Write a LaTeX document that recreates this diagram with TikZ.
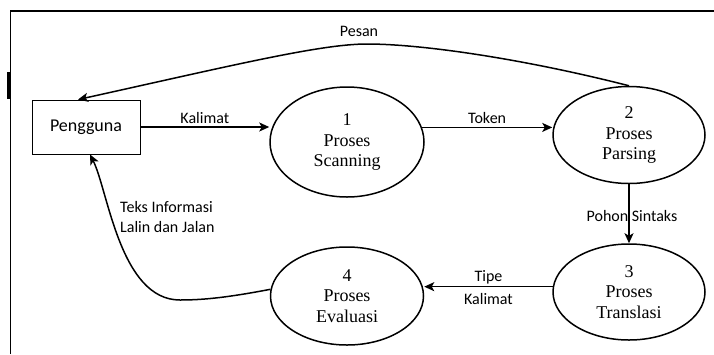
\documentclass[tikz,border=0pt]{standalone}
\usepackage{fontspec}
\setmainfont{Liberation Serif}
\newfontfamily\labelfont{Carlito}
\usetikzlibrary{positioning, arrows.meta, shapes.geometric}

\begin{document}
\begin{tikzpicture}[x=1pt,y=-1pt,
  entity/.style={draw, line width=0.9pt, minimum width=108pt, minimum height=54pt, font=\fontsize{18}{20}\labelfont},
  proc/.style={draw, ellipse, line width=1.5pt, inner sep=0pt, align=center, font=\fontsize{18}{20.5}\selectfont},
  flow/.style={-{Stealth[length=10pt,width=9pt,inset=2.5pt]}, line width=1.5pt},
  lbl/.style={font=\fontsize{16}{20}\labelfont, inner sep=0pt, anchor=base}]
  \useasboundingbox (0,0) rectangle (714,354);

  % frame
  \draw[line width=1.4pt] (10.5,354) -- (10.5,11) -- (714,11);
  \draw[line width=2.6pt] (8.7,72) -- (8.7,99);

  \node[entity] (user) at (86,127) {Pengguna};
  \node[proc, minimum width=154pt, minimum height=110pt] (p1) at (347,142) {1\\Proses\\Scanning};
  \node[proc, minimum width=152pt, minimum height=97pt] (p2) at (629,135) {2\\Proses\\Parsing};
  \node[proc, minimum width=152pt, minimum height=96pt] (p3) at (629,292) {3\\Proses\\Translasi};
  \node[proc, minimum width=153pt, minimum height=98pt] (p4) at (347,296) {4\\Proses\\Evaluasi};

  \draw[flow] (user.east) -- (user.east -| p1.west)
    node[lbl, midway, yshift=4pt] (kalimat) {Kalimat};
  \draw[flow] (p1.11) -- (p1.11 -| p2.west)
    node[lbl, midway, yshift=4pt] (token) {Token};
  \draw[flow] (p2.south) -- (p3.north)
    node[lbl, midway, xshift=3pt, yshift=-8pt] (pohon) {Pohon Sintaks};
  \draw[flow] (p3.176) -- (p3.176 -| p4.east)
    node[lbl, midway, yshift=5pt] (tipe) {Tipe}
    node[lbl, midway, yshift=-18pt] (tipekal) {Kalimat};

  % return flows
  \coordinate (pesantop) at (367,44);
  \draw[flow] (p2.north) .. controls (520,58) and (420,44) .. (pesantop)
    .. controls (320,44) and (230,66) .. ([xshift=-8pt]user.north);
  \node[lbl, xshift=-8pt, yshift=8pt] (pesan) at (pesantop) {Pesan};

  \coordinate (evalbend) at (180,300);
  \draw[flow] (p4.175) .. controls (230,297) and (205,300) .. (evalbend)
    .. controls (120,300) and (108,190) .. ([xshift=4pt]user.south);
  \node[font=\fontsize{16}{20}\labelfont, inner sep=0pt, align=left, anchor=west] (teks) at (120,217)
    {Teks Informasi\\Lalin dan Jalan};
\end{tikzpicture}
\end{document}
